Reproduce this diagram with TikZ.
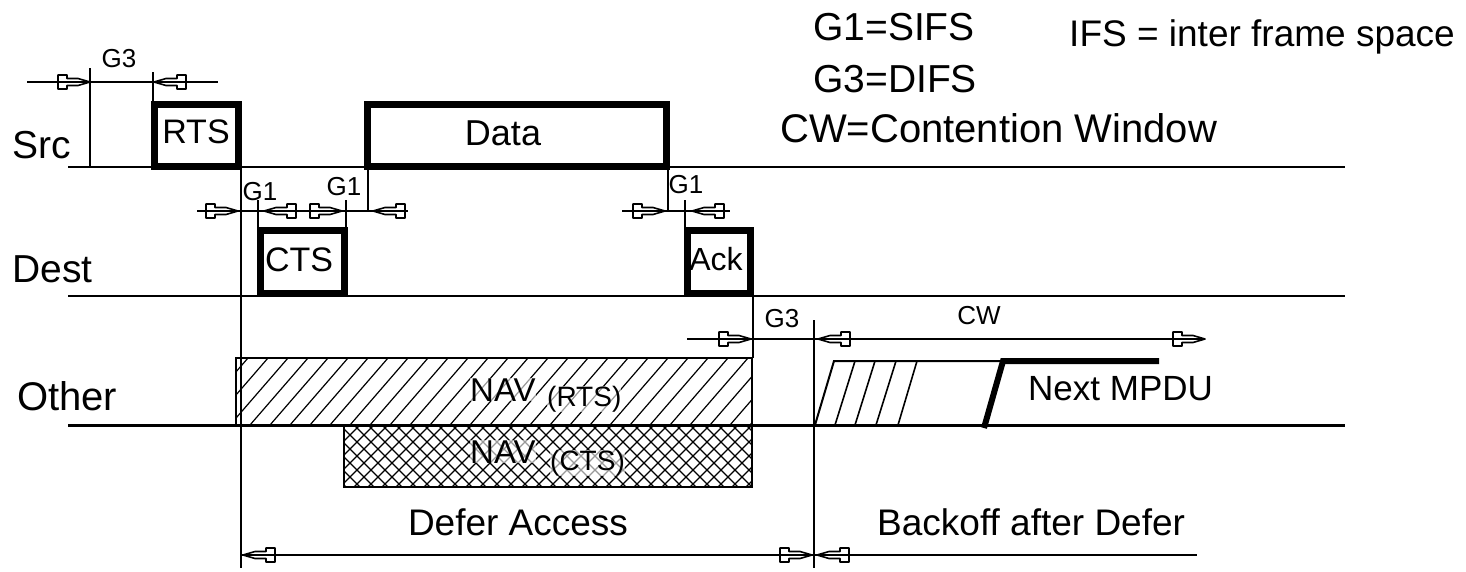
\documentclass[tikz,border=0pt]{standalone}
\usepackage{fontspec}
\setmainfont{Liberation Sans}
\begin{document}
\begin{tikzpicture}[x=1pt,y=-1pt,
  thinln/.style={line width=2pt},
  thickbox/.style={line width=7pt, line join=miter},
  hatchln/.style={line width=1.2pt},
  txt/.style={inner sep=0pt, anchor=base},
  txtw/.style={inner sep=0pt, anchor=base west},
  fbig/.style={font=\fontsize{39}{40}\selectfont},
  fbox/.style={font=\fontsize{34}{36}\selectfont},
  fmid/.style={font=\fontsize{37}{38}\selectfont},
  fsmall/.style={font=\fontsize{26}{28}\selectfont},
  navbg/.style={fill=white, fill opacity=0.6, text opacity=1},
  nib/.pic={\draw[line width=1.6pt, line join=round]
     (0,0) -- (-12,-3.5) -- (-23,-3.5) -- (-23,-7) -- (-32,-7) -- (-32,7)
     -- (-23,7) -- (-23,3.5) -- (-12,3.5) -- cycle;}
]
\useasboundingbox (0,0) rectangle (1466,571);

% ---------- time lines ----------
\coordinate (srcL) at (68,167);  \coordinate (srcR) at (1345,167);
\coordinate (dstL) at (68,296);  \coordinate (dstR) at (1345,296);
\coordinate (othL) at (68,425);  \coordinate (othR) at (1345,425);
\draw[thinln] (srcL) -- (srcR);
\draw[thinln] (dstL) -- (dstR);

% ---------- NAV boxes ----------
\begin{scope}
  \clip (236,358) rectangle (752,425);
  \foreach \x in {150,170,...,770} \draw[hatchln] (\x,425) -- (\x+58,358);
\end{scope}
\begin{scope}
  \clip (344,425) rectangle (752,487);
  \foreach \x in {270,284,...,770} {
    \draw[hatchln] (\x,487) -- (\x+62,425);
    \draw[hatchln] (\x,425) -- (\x+62,487);
  }
\end{scope}
\draw[line width=2pt] (236,358) rectangle (752,425);
\draw[line width=2pt] (344,425) rectangle (752,487);
\draw[line width=3pt] (othL) -- (othR);

\node[txtw, navbg, font=\fontsize{33}{34}\selectfont] (nav1) at (470,401) {NAV};
\node[txtw, navbg, font=\fontsize{28}{30}\selectfont] (nav1s) at (547,406) {(RTS)};
\node[txtw, navbg, font=\fontsize{33}{34}\selectfont] (nav2) at (470,463) {NAV};
\node[txtw, navbg, font=\fontsize{28}{30}\selectfont] (nav2s) at (550,470) {(CTS)};

% ---------- frames ----------
\draw[thickbox] (154,104) rectangle (238,166);
\draw[thickbox] (367,104) rectangle (666,166);
\draw[thickbox] (260,230) rectangle (344,293);
\draw[thickbox] (687,230) rectangle (750,293);
\node[txt, fbox] (rts) at (196,143) {RTS};
\node[txt, font=\fontsize{36}{38}\selectfont] (data) at (503,145) {Data};
\node[txt, fbox] (cts) at (299,271) {CTS};
\node[txt, font=\fontsize{32}{34}\selectfont] (ack) at (716,270) {Ack};

% ---------- vertical markers ----------
\draw[thinln] (90,68) -- (90,167);
\draw[thinln] (153,72) -- (153,101);
\draw[thinln] (241,167) -- (241,568);
\draw[thinln] (258,200) -- (258,228);
\draw[thinln] (346,200) -- (346,228);
\draw[thinln] (368,167) -- (368,211);
\draw[thinln] (668,167) -- (668,211);
\draw[thinln] (685,200) -- (685,228);
\draw[thinln] (753,296) -- (753,358);
\draw[thinln] (814,320) -- (814,568);

% ---------- dimension lines ----------
\draw[thinln] (27,82) -- (218,82);
\pic at (90,82) {nib};
\pic[rotate=180] at (154,82) {nib};
\node[txt, fsmall] (g3a) at (119,67) {G3};

\draw[thinln] (197,211) -- (408,211);
\pic at (238,211) {nib};
\pic[rotate=180] at (264,211) {nib};
\pic at (342,211) {nib};
\pic[rotate=180] at (373,211) {nib};
\node[txt, fsmall] (g1a) at (260,200) {G1};
\node[txt, fsmall] (g1b) at (344,195) {G1};

\draw[thinln] (622,211) -- (730,211);
\pic at (665,211) {nib};
\pic[rotate=180] at (692,211) {nib};
\node[txt, fsmall] (g1c) at (686,193) {G1};

\draw[thinln] (687,339) -- (1205,339);
\pic at (751,339) {nib};
\pic[rotate=180] at (818,339) {nib};
\pic at (1205,339) {nib};
\node[txt, fsmall] (g3b) at (782,327) {G3};
\node[txt, fsmall] (cw) at (979,324) {CW};

\draw[thinln] (241,555) -- (1197,555);
\pic[rotate=180] at (243,555) {nib};
\pic at (812,555) {nib};
\pic[rotate=180] at (817,555) {nib};
\node[txt, fmid] (defer) at (518,535) {Defer Access};
\node[txtw, fmid] (backoff) at (877,535) {Backoff after Defer};

% ---------- backoff slots and next MPDU ----------
\draw[thinln] (815,425) -- (834,361) -- (1003,361);
\foreach \b/\t in {835/855, 855/875, 876/896, 898/917}
  \draw[line width=1.6pt] (\b,425) -- (\t,361);
\draw[line width=6pt] (984,428) -- (1003,361) -- (1159,361);
\node[txtw, font=\fontsize{35}{36}\selectfont] (mpdu) at (1028,400) {Next MPDU};

% ---------- row labels ----------
\node[txtw, fbig] (src) at (12,158) {Src};
\node[txtw, fbig] (dest) at (12,282) {Dest};
\node[txtw, font=\fontsize{40}{42}\selectfont] (other) at (17,410) {Other};

% ---------- legend ----------
\node[txtw, fbig] (leg1) at (813,40) {G1=SIFS};
\node[txtw, fbig] (leg2) at (813,92) {G3=DIFS};
\node[txtw, font=\fontsize{40}{42}\selectfont] (leg3) at (780,142) {CW=Contention Window};
\node[txtw, font=\fontsize{37}{38}\selectfont] (ifs) at (1069,46) {IFS = inter frame space};
\end{tikzpicture}
\end{document}
